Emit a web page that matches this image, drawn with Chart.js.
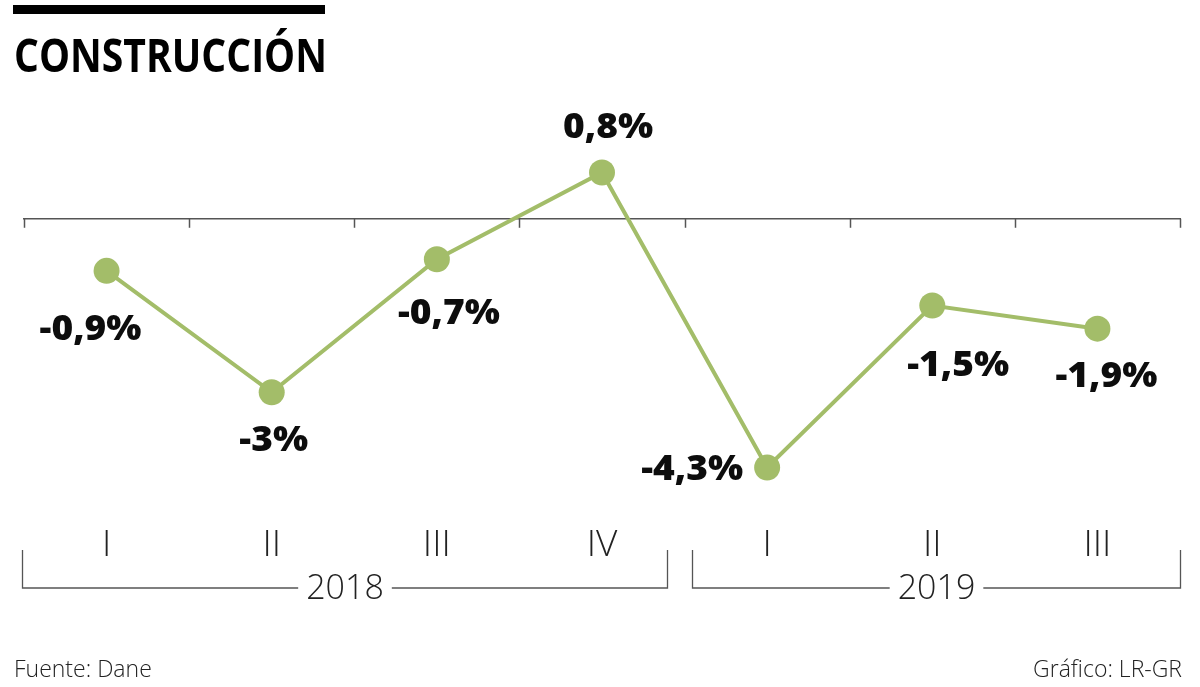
<!DOCTYPE html>
<html>
<head>
<meta charset="utf-8">
<script src="https://cdn.jsdelivr.net/npm/chart.js@4.4.1/dist/chart.umd.min.js"></script>
<style>
  html, body { margin: 0; padding: 0; background: #fff; }
  #wrap { position: relative; width: 1200px; height: 687px; overflow: hidden; }
  canvas { display: block; }
</style>
</head>
<body>
<div id="wrap"><canvas id="c" width="1200" height="687"></canvas></div>
<script>
// ---- data ----
const quarters = ["I", "II", "III", "IV", "I", "II", "III"];
const years = ["2018", "2019"];
const yearSpans = [4, 3]; // number of quarters per year
const values = [-0.9, -3, -0.7, 0.8, -4.3, -1.5, -1.9];
const valueLabels = ["-0,9%", "-3%", "-0,7%", "0,8%", "-4,3%", "-1,5%", "-1,9%"];
const titleText = "CONSTRUCCIÓN";
const sourceText = "Fuente: Dane";
const creditText = "Gráfico: LR-GR";

// ---- style ----
const GREEN = "#a3bd69";
const AXIS = "#555555";
const labelOffsets = [[-16, 58], [2, 48], [12, 54], [6, -45], [-75, 2], [26, 59], [9, 47]];
const SANS = "'Open Sans', 'Noto Sans', sans-serif";

const decorPlugin = {
  id: "decor",
  beforeDatasetsDraw(chart) {
    const ctx = chart.ctx;
    const x = chart.scales.x, y = chart.scales.y;
    const zeroY = y.getPixelForValue(0);
    ctx.save();
    ctx.strokeStyle = AXIS;
    ctx.lineWidth = 1.5;
    const left = x.getPixelForValue(-0.5), right = x.getPixelForValue(quarters.length - 0.5);
    ctx.beginPath();
    ctx.moveTo(left - 1, zeroY);
    ctx.lineTo(right + 1, zeroY);
    ctx.stroke();
    for (let i = 0; i <= quarters.length; i++) {
      const px = Math.round(x.getPixelForValue(i - 0.5)) + 0.5;
      ctx.beginPath();
      ctx.moveTo(px, zeroY);
      ctx.lineTo(px, zeroY + 9);
      ctx.stroke();
    }
    ctx.restore();
  },
  afterDraw(chart) {
    const ctx = chart.ctx;
    const x = chart.scales.x;
    const area = chart.chartArea;
    ctx.save();
    // top black bar
    ctx.fillStyle = "#000";
    ctx.fillRect(13, 5, 312, 9);
    // title (fit to width)
    ctx.font = "700 46px " + SANS;
    ctx.textBaseline = "alphabetic";
    ctx.textAlign = "left";
    const tw = ctx.measureText(titleText).width;
    ctx.save();
    ctx.translate(14, 72);
    ctx.scale(313 / tw, 1);
    ctx.fillStyle = "#000";
    ctx.fillText(titleText, 0, 0);
    ctx.restore();

    // data labels
    const meta = chart.getDatasetMeta(0);
    ctx.font = "800 35px " + SANS;
    ctx.fillStyle = "#0d0d0d";
    ctx.textAlign = "center";
    ctx.textBaseline = "middle";
    meta.data.forEach((pt, i) => {
      const o = labelOffsets[i];
      ctx.save();
      ctx.translate(pt.x + o[0], pt.y + o[1] + 1);
      ctx.scale(1.06, 1);
      ctx.fillText(valueLabels[i], 0, 0);
      ctx.restore();
    });

    // quarter labels
    ctx.font = "300 37px " + SANS;
    ctx.fillStyle = "#222";
    quarters.forEach((q, i) => {
      ctx.fillText(q, x.getPixelForValue(i), area.bottom + 37);
    });

    // year brackets
    ctx.strokeStyle = AXIS;
    ctx.lineWidth = 1.3;
    ctx.font = "300 34px " + SANS;
    const bracketY = area.bottom + 80;
    const topY = area.bottom + 42;
    let start = 0;
    years.forEach((yr, k) => {
      const end = start + yearSpans[k];
      let bl = x.getPixelForValue(start - 0.5);
      let br = x.getPixelForValue(end - 0.5);
      if (start > 0) bl += 9;
      if (end < quarters.length) br -= 18;
      bl = Math.round(bl) - 1.5; br = Math.round(br) + 0.5;
      const cx = (bl + br) / 2;
      const w = ctx.measureText(yr).width;
      ctx.beginPath();
      ctx.moveTo(bl, topY);
      ctx.lineTo(bl, bracketY);
      ctx.lineTo(cx - w / 2 - 8, bracketY);
      ctx.moveTo(cx + w / 2 + 8, bracketY);
      ctx.lineTo(br, bracketY);
      ctx.lineTo(br, topY);
      ctx.stroke();
      ctx.fillStyle = "#222";
      ctx.fillText(yr, cx, bracketY + 1);
      start = end;
    });

    // footer
    ctx.font = "300 23px " + SANS;
    ctx.fillStyle = "#222";
    ctx.textAlign = "left";
    ctx.fillText(sourceText, 14, 670);
    ctx.textAlign = "right";
    ctx.fillText(creditText, 1182, 670);
    ctx.restore();
  }
};

new Chart(document.getElementById("c"), {
  type: "line",
  data: {
    labels: quarters,
    datasets: [{
      data: values,
      borderColor: GREEN,
      backgroundColor: GREEN,
      borderWidth: 4,
      pointRadius: 13,
      pointHoverRadius: 13,
      pointBorderWidth: 0,
      pointBackgroundColor: GREEN,
      tension: 0,
      clip: false
    }]
  },
  options: {
    responsive: false,
    animation: false,
    events: [],
    layout: { padding: { top: 132, bottom: 179, left: 24, right: 20 } },
    plugins: { legend: { display: false }, tooltip: { enabled: false }, title: { display: false } },
    scales: {
      x: { type: "category", offset: true, display: false },
      y: { type: "linear", min: -5, max: 1.5, display: false }
    }
  },
  plugins: [decorPlugin]
});
</script>
</body>
</html>
